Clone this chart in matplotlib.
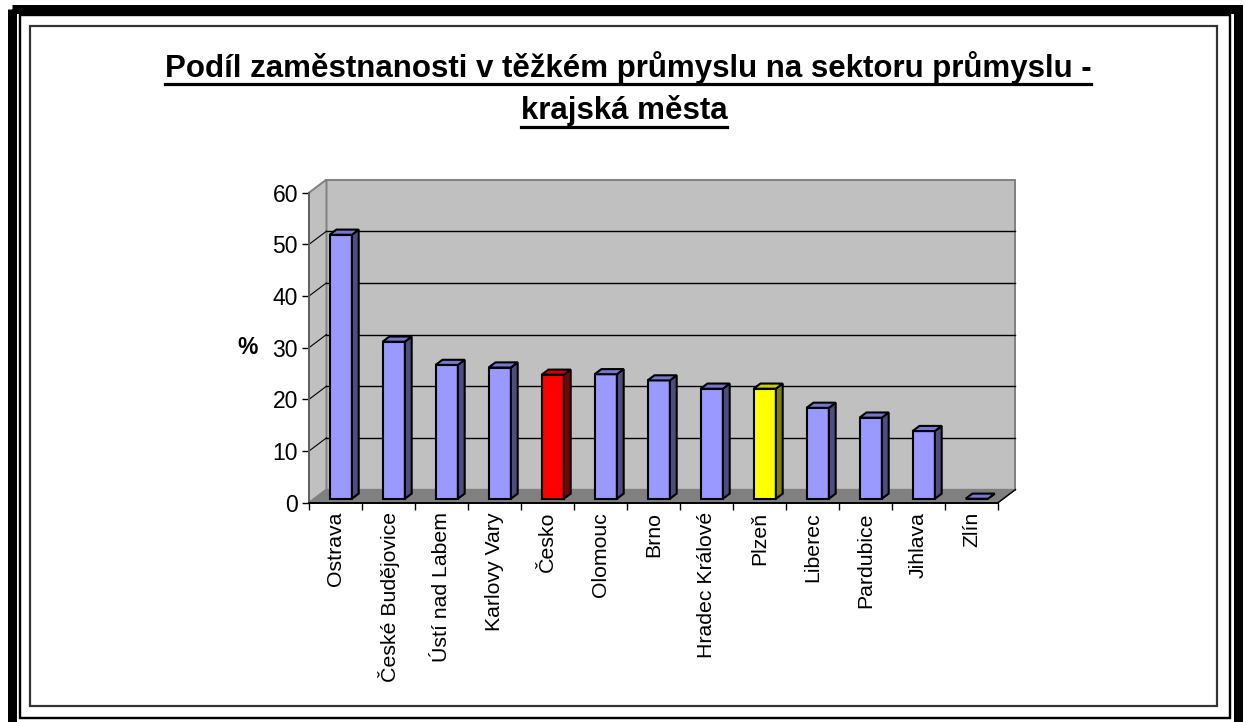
import numpy as np
import matplotlib.pyplot as plt
from matplotlib.patches import Polygon, Rectangle
from matplotlib.lines import Line2D

plt.rcParams['font.family'] = ['Liberation Sans', 'DejaVu Sans']

# data
mesta = ['Ostrava', 'České Budějovice', 'Ústí nad Labem', 'Karlovy Vary', 'Česko',
         'Olomouc', 'Brno', 'Hradec Králové', 'Plzeň', 'Liberec', 'Pardubice',
         'Jihlava', 'Zlín']
podil = [51.1, 30.4, 25.9, 25.4, 24.0, 24.1, 22.9, 21.3, 21.3, 17.6, 15.7, 13.1, 0.0]
typ = ['kraj'] * 4 + ['cr'] + ['kraj'] * 3 + ['plzen'] + ['kraj'] * 4
y_ticks = [0, 10, 20, 30, 40, 50, 60]
titulek = ['Podíl zaměstnanosti v těžkém průmyslu na sektoru průmyslu -',
           'krajská města']

# barvy: predni stena, vrchni stena, bocni stena
barvy = {
    'kraj': ('#9999ff', '#7777d0', '#4d4d80'),
    'cr': ('#ff0000', '#cc0000', '#800000'),
    'plzen': ('#ffff00', '#cccc00', '#808000'),
}

W, H = 1245, 722
fig = plt.figure(figsize=(W / 100, H / 100), dpi=100)

# ramecek kolem grafu (v pixelech)
bg = fig.add_axes([0, 0, 1, 1])
bg.set_xlim(0, W)
bg.set_ylim(H, 0)
bg.axis('off')
bg.add_patch(Rectangle((11.5, 8.5), 1226, 725, fill=False, ec='black', lw=9 * 0.72))
bg.add_patch(Rectangle((19.5, 15), 1210.5, 703, fill=False, ec='black', lw=2.4 * 0.72))
bg.add_patch(Rectangle((29.5, 26), 1187.5, 680, fill=False, ec='#333333', lw=2.2 * 0.72))

# titulek
tl = []
for txt, xc, yb in zip(titulek, [628, 624], [77, 119.5]):
    tl.append(fig.text(xc / W, 1 - yb / H, txt, ha='center', va='baseline',
                       fontsize=22.5, fontweight='bold'))

# hlavni osa
n = len(mesta)
ymax = y_ticks[-1]
ax = fig.add_axes([309 / W, 1 - 502.7 / H, 689 / W, 310 / H])
ax.set_xlim(0, n)
ax.set_ylim(0, ymax)
ax.patch.set_visible(False)

DX, DY = 0.33, 2.55      # hloubka 3D
F0, F1 = 0.30, 0.69      # poloha sloupcu v hloubce
BW = 0.42

# steny a podlaha
ax.add_patch(Polygon([(DX, DY), (n + DX, DY), (n + DX, ymax + DY), (DX, ymax + DY)],
                     fc='#c0c0c0', ec='#808080', lw=1.4, clip_on=False, zorder=0.5))
ax.add_patch(Polygon([(0, 0), (DX, DY), (DX, ymax + DY), (0, ymax)],
                     fc='#c0c0c0', ec='#808080', lw=1.4, clip_on=False, zorder=0.5))
ax.add_patch(Polygon([(0, 0), (n, 0), (n + DX, DY), (DX, DY)],
                     fc='#808080', ec='#808080', lw=1, clip_on=False, zorder=0.6))
ax.add_line(Line2D([n, n + DX], [0, DY], color='black', lw=1, clip_on=False, zorder=0.7))

for v in y_ticks[1:-1]:
    ax.add_line(Line2D([DX, n + DX], [v + DY, v + DY], color='black', lw=1,
                       clip_on=False, zorder=0.8))
    ax.add_line(Line2D([0, DX], [v, v + DY], color='black', lw=0.8,
                       clip_on=False, zorder=0.8))

# sloupce
d = F1 - F0
x_pos = np.arange(n) + 0.5
for xc, v, t in zip(x_pos, podil, typ):
    front, top, side = barvy[t]
    ax.bar(xc + F0 * DX, v, width=BW, bottom=F0 * DY, color=front,
           edgecolor='black', lw=1.5, clip_on=False, zorder=3)
    x0 = xc + F0 * DX - BW / 2
    x1 = x0 + BW
    y0 = F0 * DY
    ax.add_patch(Polygon([(x1, y0), (x1 + d * DX, y0 + d * DY),
                          (x1 + d * DX, y0 + v + d * DY), (x1, y0 + v)],
                         fc=side, ec='black', lw=1.5, clip_on=False, zorder=3))
    ax.add_patch(Polygon([(x0, y0 + v), (x1, y0 + v), (x1 + d * DX, y0 + v + d * DY),
                          (x0 + d * DX, y0 + v + d * DY)],
                         fc=top, ec='black', lw=1.5, clip_on=False, zorder=3))

# osy
for s in ['top', 'right']:
    ax.spines[s].set_visible(False)
ax.spines['left'].set_color('#606060')
ax.spines['left'].set_linewidth(1.4)
ax.spines['bottom'].set_color('black')
ax.spines['bottom'].set_linewidth(1.4)
ax.spines['bottom'].set_zorder(4)

ax.set_yticks(y_ticks)
ax.tick_params(axis='y', direction='out', length=5, width=1, labelsize=16.5, pad=3)
ax.set_xticks(np.arange(n + 1))
ax.set_xticklabels([])
ax.set_xticks(x_pos, minor=True)
ax.set_xticklabels(mesta, minor=True, rotation=90, fontsize=15.3)
ax.tick_params(axis='x', which='major', direction='out', length=5, width=1)
ax.tick_params(axis='x', which='minor', length=0, pad=6.7)

ax.set_ylabel('%', rotation=0, fontsize=16.5, fontweight='bold', ha='center', va='center')
ax.yaxis.set_label_coords(-0.0885, 0.5)

# podtrzeni titulku
fig.canvas.draw()
r = fig.canvas.get_renderer()
for t, yb in zip(tl, [77, 119.5]):
    bb = t.get_window_extent(renderer=r)
    yu = 1 - (yb + 7) / H
    fig.add_artist(Line2D([bb.x0 / W, bb.x1 / W], [yu, yu], color='black',
                          lw=3.2 * 0.72, transform=fig.transFigure))

fig.savefig('out.png', dpi=100)
